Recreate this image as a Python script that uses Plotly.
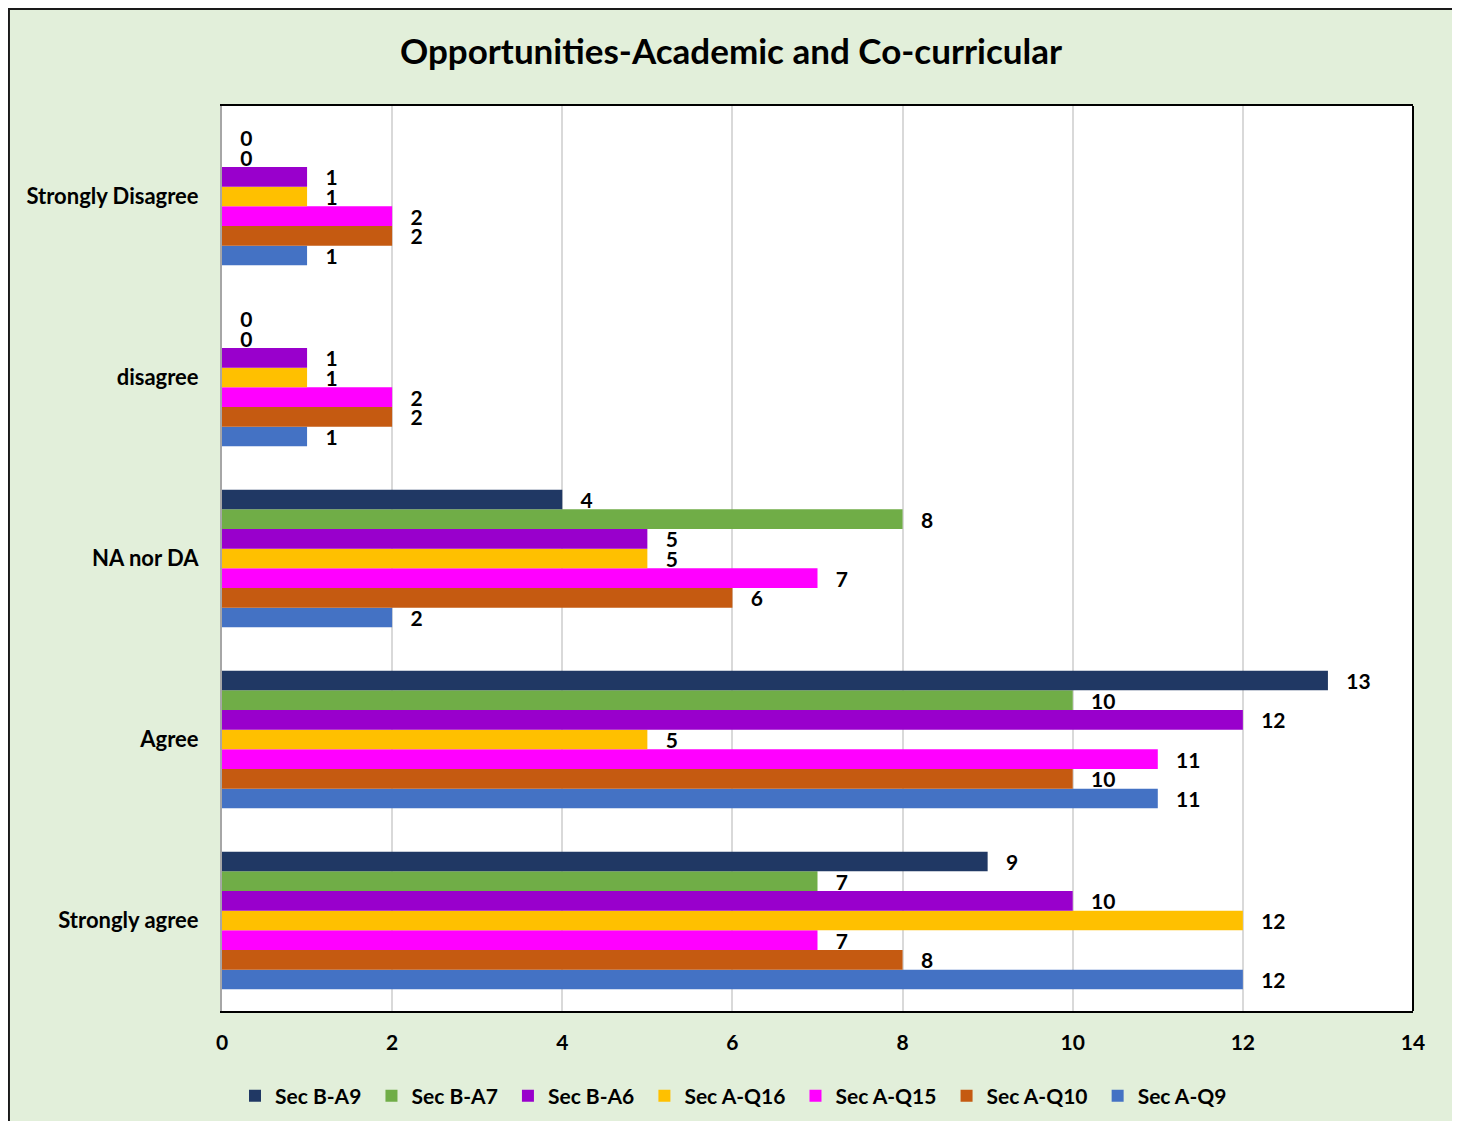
import plotly.graph_objects as go

categories = ["Strongly agree", "Agree", "NA nor DA", "disagree", "Strongly Disagree"]

series_names = ["Sec A-Q9", "Sec A-Q10", "Sec A-Q15", "Sec A-Q16", "Sec B-A6", "Sec B-A7", "Sec B-A9"]
sec_a_q9 = [12, 11, 2, 1, 1]
sec_a_q10 = [8, 10, 6, 2, 2]
sec_a_q15 = [7, 11, 7, 2, 2]
sec_a_q16 = [12, 5, 5, 1, 1]
sec_b_a6 = [10, 12, 5, 1, 1]
sec_b_a7 = [7, 10, 8, 0, 0]
sec_b_a9 = [9, 13, 4, 0, 0]
series_values = [sec_a_q9, sec_a_q10, sec_a_q15, sec_a_q16, sec_b_a6, sec_b_a7, sec_b_a9]
colors = ["#4472C4", "#C55A11", "#FF00FF", "#FFC000", "#9900CC", "#70AD47", "#203864"]

x_ticks = [0, 2, 4, 6, 8, 10, 12, 14]

FONT = "Lato"

# page body has an 8px margin: figure placed at (8, 8)
W, H = 1452, 1113
L, T, R, B = 214, 98, 47, 110
PW = W - L - R
PH = H - T - B

fig = go.Figure()
for name, vals, col in zip(series_names, series_values, colors):
    fig.add_trace(go.Bar(
        y=categories, x=vals, name=name + " ", orientation="h",
        marker=dict(color=col, line=dict(width=0)),
        text=[f"   {v}" for v in vals], textposition="outside",
        textfont=dict(family=FONT, size=21, color="#000000", weight="bold"),
        constraintext="none", cliponaxis=False,
    ))

fig.update_layout(
    width=W, height=H,
    barmode="group", bargap=0.24, bargroupgap=0,
    paper_bgcolor="#E2EFDA", plot_bgcolor="#FFFFFF",
    margin=dict(l=L, r=R, t=T, b=B, autoexpand=False),
    title=dict(text="Opportunities-Academic and Co-curricular", x=(731 - 8) / W, xanchor="center",
               y=1 - (52 - 8) / H, yanchor="middle",
               font=dict(family=FONT, size=35, color="#000000", weight="bold")),
    font=dict(family=FONT, color="#000000"),
    legend=dict(orientation="h", x=(736 - 222) / PW, xanchor="center", y=(1011 - 1096) / PH, yanchor="middle",
                traceorder="reversed", font=dict(family=FONT, size=21, weight="bold"),
                bgcolor="rgba(0,0,0,0)", itemwidth=30),
    showlegend=True,
    xaxis=dict(range=[0, 14], tickvals=x_ticks, showgrid=True, gridcolor="#D9D9D9", gridwidth=2,
               zeroline=False, showline=True, linecolor="#000000", linewidth=2, mirror=True,
               tickfont=dict(family=FONT, size=21, weight="bold"), ticks="", ticklabelstandoff=12),
    yaxis=dict(categoryorder="array", categoryarray=categories, showgrid=False, zeroline=False,
               showline=True, linecolor="#A6A6A6", linewidth=2, mirror=False,
               tickfont=dict(family=FONT, size=22, weight="bold"), ticks="", ticklabelstandoff=17),
)

# right border of plot area
fig.add_shape(type="line", xref="paper", yref="paper", x0=1, x1=1, y0=0, y1=1,
              line=dict(color="#000000", width=2))

# outer chart border
fig.add_shape(type="rect", xref="paper", yref="paper",
              x0=(8 - 222) / PW + 0.0008, x1=(1455 - 222) / PW,
              y0=(1011 - 1140) / PH, y1=(1011 - 9) / PH,
              line=dict(color="#1A1A1A", width=2), fillcolor="rgba(0,0,0,0)", layer="below")

fig.write_html("out.html")
